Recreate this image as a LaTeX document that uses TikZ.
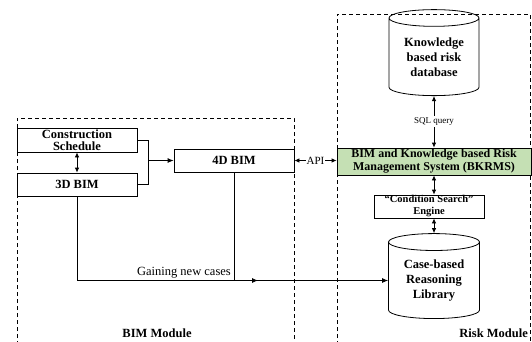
\documentclass[tikz,border=0pt]{standalone}
\usepackage{fontspec}
\setmainfont{Liberation Serif}
\usetikzlibrary{shapes.geometric,arrows.meta}
\definecolor{bkgreen}{RGB}{197,224,180}
\begin{document}
\begin{tikzpicture}[x=1pt,y=-1pt,
  every node/.style={inner sep=0pt},
  box/.style={draw, line width=0.8pt, align=center, font=\bfseries\fontsize{12.5}{12.5}\selectfont},
  cyl/.style={draw, line width=0.8pt, cylinder, shape border rotate=90, aspect=0.28, align=center, font=\bfseries\fontsize{12.5}{15}\selectfont},
  conn/.style={line width=0.8pt},
  dbl/.style={line width=0.8pt, {Latex[length=5pt,width=4.5pt]}-{Latex[length=5pt,width=4.5pt]}},
  arr/.style={line width=0.8pt, -{Latex[length=6pt,width=5pt]}},
  module/.style={line width=0.7pt, dash pattern=on 4pt off 3pt},
  modlabel/.style={font=\bfseries\fontsize{12.5}{12.5}\selectfont}
]
\useasboundingbox (0,0) rectangle (532,341);
% modules
\draw[module] (17,345) -- (17,118) -- (294,118) -- (294,345);
\draw[module] (337,345) -- (337,14) -- (530,14) -- (530,345);
\node[modlabel] (bimlab) at (157,333) {BIM Module};
\node[modlabel, anchor=east] (risklab) at (528,333.5) {Risk Module};
% BIM nodes
\node[box, minimum width=120pt, minimum height=24pt] (cs) at (77,140) {Construction\\Schedule};
\node[box, minimum width=120pt, minimum height=23pt] (bim3) at (77,184.5) {3D BIM};
\node[box, minimum width=120pt, minimum height=23pt] (bim4) at (234,160.5) {4D BIM};
% Risk nodes
\node[cyl, minimum width=90pt, minimum height=86pt] (kdb) at (434,57) {Knowledge\\based risk\\database};
\node[box, fill=bkgreen, minimum width=194pt, minimum height=27pt, font=\bfseries\fontsize{12}{13}\selectfont] (bkrms) at (434,161.5) {BIM and Knowledge based Risk\\Management System (BKRMS)};
\node[box, minimum width=110pt, minimum height=23pt, font=\bfseries\fontsize{10.5}{12}\selectfont] (cse) at (429,206.5) {“Condition Search”\\Engine};
\node[cyl, minimum width=91pt, minimum height=85pt] (cbr) at (434,280.5) {Case-based\\Reasoning\\Library};
% connectors
\draw[dbl] (cs.south) -- (bim3.north);
\coordinate (jn) at (148,160.5);
\draw[conn] (cs.east) -- (cs.east -| jn) -- (bim3.east -| jn) -- (bim3.east);
\draw[arr] (jn) -- (bim4.west);
\draw[arr] (bim3.south) |- (cbr.west);
\draw[conn] (bim4.south) -- (bim4.south |- cbr.west);
\coordinate (midarr) at (258,280.5);
\draw[arr] (bim4.south |- cbr.west) -- (midarr);
\node[anchor=south east, font=\fontsize{12.5}{12.5}\selectfont] (gain) at (231,278) {Gaining new cases};
\draw[dbl] (bim4.east) -- (bim4.east -| bkrms.west) node[midway, fill=white, inner sep=1pt, font=\fontsize{11}{11}\selectfont] (api) {API};
\draw[dbl] (kdb.south) -- (bkrms.north) node[midway, fill=white, inner sep=1.5pt, font=\fontsize{9}{9}\selectfont] (sql) {SQL query};
\draw[dbl] (bkrms.south) -- (bkrms.south |- cse.north);
\draw[dbl] (cbr.north |- cse.south) -- (cbr.north);
\end{tikzpicture}
\end{document}
